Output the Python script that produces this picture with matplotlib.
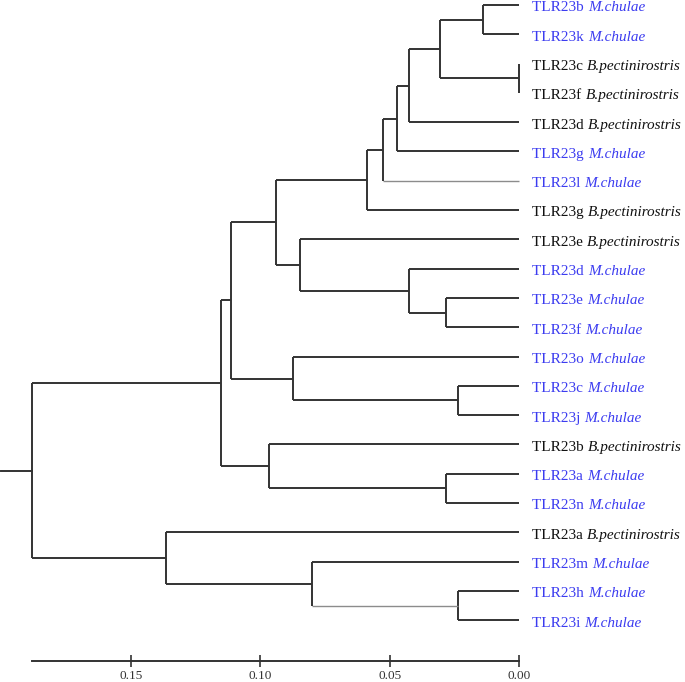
import matplotlib as mpl
import matplotlib.pyplot as plt

# leaves, top to bottom
gene = ['TLR23b', 'TLR23k', 'TLR23c', 'TLR23f', 'TLR23d', 'TLR23g', 'TLR23l',
        'TLR23g', 'TLR23e', 'TLR23d', 'TLR23e', 'TLR23f', 'TLR23o', 'TLR23c',
        'TLR23j', 'TLR23b', 'TLR23a', 'TLR23n', 'TLR23a', 'TLR23m', 'TLR23h',
        'TLR23i']
species = ['M.chulae', 'M.chulae', 'B.pectinirostris', 'B.pectinirostris',
           'B.pectinirostris', 'M.chulae', 'M.chulae', 'B.pectinirostris',
           'B.pectinirostris', 'M.chulae', 'M.chulae', 'M.chulae', 'M.chulae',
           'M.chulae', 'M.chulae', 'B.pectinirostris', 'M.chulae', 'M.chulae',
           'B.pectinirostris', 'M.chulae', 'M.chulae', 'M.chulae']

# internal nodes: (name, child 1, child 2, height); ints are leaf indices
nodes = [
    ('n1', 0, 1, 0.0139),
    ('n2', 2, 3, 0.0),
    ('n3', 'n1', 'n2', 0.0305),
    ('n4', 'n3', 4, 0.0425),
    ('n5', 'n4', 5, 0.0472),
    ('n6', 'n5', 6, 0.0526),
    ('n7', 'n6', 7, 0.0588),
    ('n8', 10, 11, 0.0282),
    ('n9', 9, 'n8', 0.0425),
    ('n10', 8, 'n9', 0.0847),
    ('n11', 'n7', 'n10', 0.0939),
    ('n12', 13, 14, 0.0236),
    ('n13', 12, 'n12', 0.0874),
    ('n14', 'n11', 'n13', 0.1113),
    ('n15', 16, 17, 0.0282),
    ('n16', 15, 'n15', 0.0966),
    ('n17', 'n14', 'n16', 0.1152),
    ('n18', 20, 21, 0.0236),
    ('n19', 19, 'n18', 0.0800),
    ('n20', 18, 'n19', 0.1365),
    ('root', 'n17', 'n20', 0.1883),
]
root_stub = 0.2003
ticks = [0.15, 0.10, 0.05, 0.00]
tick_labels = ['0.15', '0.10', '0.05', '0.00']

# branches drawn lighter in the original
light = {6, 'n18'}

plt.rcParams['font.family'] = ['Liberation Serif', 'DejaVu Serif']

fig = plt.figure(figsize=(6.85, 6.82), dpi=100)
ax = fig.add_axes([0, 0, 1, 1])
ax.set_xlim(0.2006, -0.0642)
ax.set_ylim(23.11, -0.171)

dark = '#333333'
grey = '#8c8c8c'
blue = '#3c3cf0'

pos = {i: (0.0, float(i)) for i in range(len(gene))}
for name, a, b, h in nodes:
    ya, yb = pos[a][1], pos[b][1]
    for c in (a, b):
        ax.plot([h, pos[c][0]], [pos[c][1], pos[c][1]],
                color=grey if c in light else dark,
                lw=1.0 if c in light else 1.4, solid_capstyle='butt')
    ax.plot([h, h], [ya, yb], color=dark, lw=1.4, solid_capstyle='butt')
    pos[name] = (h, (ya + yb) / 2)

rh, ry = pos['root']
ax.plot([root_stub, rh], [ry, ry], color=dark, lw=1.4)

for i, (g, s) in enumerate(zip(gene, species)):
    col = blue if s == 'M.chulae' else '#111111'
    t = ax.text(-0.0052, i + 0.1, g + ' ', color=col, fontsize=11,
                va='center', ha='left')
    ax.annotate(s, xy=(1, 0), xycoords=t, va='bottom', ha='left',
                color=col, fontsize=11, style='italic')

# scale axis
for sp in ['top', 'right', 'left']:
    ax.spines[sp].set_visible(False)
ax.spines['bottom'].set_position(('data', 22.4))
ax.spines['bottom'].set_bounds(0.0, 0.1883)
ax.spines['bottom'].set_color(dark)
ax.spines['bottom'].set_linewidth(1.4)
ax.set_xticks(ticks)
ax.set_xticklabels(tick_labels)
ax.tick_params(axis='x', direction='inout', length=8, width=1.2,
               color=dark, labelsize=9.5, labelcolor='#333333', pad=2)
ax.set_yticks([])

fig.savefig('out.png', dpi=100)
